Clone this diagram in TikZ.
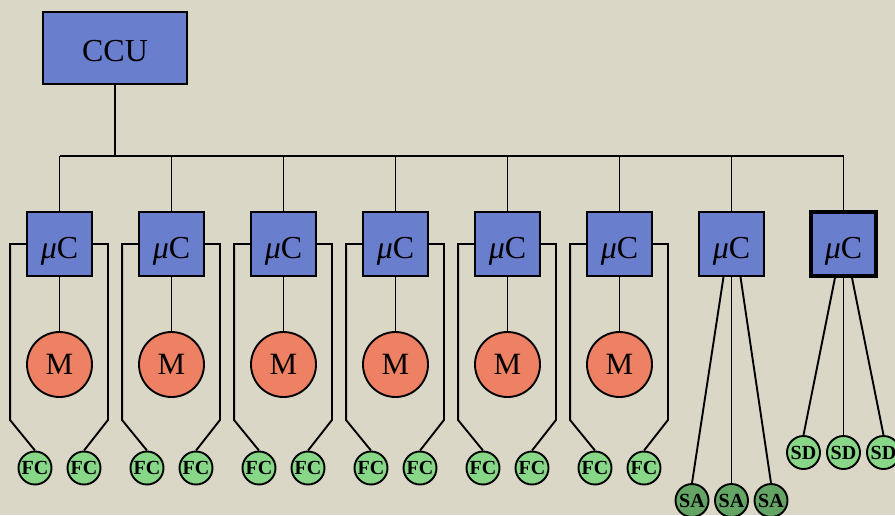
\documentclass[tikz,border=0pt]{standalone}
\usepackage{fontspec}
\setmainfont{Liberation Serif}
\definecolor{bg}{RGB}{218,215,199}
\definecolor{boxblue}{RGB}{106,126,206}
\definecolor{motorred}{RGB}{238,128,100}
\definecolor{lgreen}{RGB}{136,214,136}
\definecolor{dgreen}{RGB}{100,164,100}
\begin{document}
\begin{tikzpicture}[x=1pt,y=-1pt,line width=1.9pt,
  ccubox/.style={draw=black,fill=boxblue,minimum width=144pt,minimum height=72pt,inner sep=0pt,text height=27pt,text depth=0pt,font=\fontsize{32}{36}\selectfont},
  ucbox/.style={draw=black,fill=boxblue,minimum width=65pt,minimum height=64pt,inner sep=0pt,text height=28pt,text depth=0pt,font=\fontsize{32}{36}\selectfont},
  motor/.style={circle,draw=black,fill=motorred,minimum size=65pt,inner sep=0pt,font=\fontsize{31}{36}\selectfont},
  sensor/.style={circle,draw=black,fill=lgreen,minimum size=33pt,inner sep=0pt,font=\bfseries\fontsize{20}{22}\selectfont},
  actuator/.style={sensor,fill=dgreen}]
\fill[bg] (0,0) rectangle (895,515);
\useasboundingbox (0,0) rectangle (895,515);
\node[ccubox] (ccu) at (115,48) {CCU};
\coordinate (bus) at (0,156);
\foreach \i in {1,...,7}{
  \pgfmathsetmacro\cx{59.5+112*(\i-1)}
  \node[ucbox] (uc\i) at (\cx,244) {\textit{μ}C};
}
\node[ucbox,line width=3.5pt] (uc8) at (843.5,244) {\textit{μ}C};
\draw (ccu.south) -- (ccu.south |- bus);
\draw (uc1.north |- bus) -- (uc8.north |- bus);
\foreach \i in {1,...,8}{
  \draw (uc\i.north) -- (uc\i.north |- bus);
}
\foreach \i in {1,...,6}{
  \pgfmathsetmacro\cx{59.5+112*(\i-1)}
  \node[motor] (m\i) at (\cx,364.5) {M};
  \node[sensor] (fcl\i) at (\cx-24.5,468) {FC};
  \node[sensor] (fcr\i) at (\cx+24.5,468) {FC};
  \draw (uc\i.south) -- (m\i.north);
  \draw (uc\i.west) -- ++(-16,0) -- ++(0,176) -- (fcl\i.north);
  \draw (uc\i.east) -- ++(15,0) -- ++(0,176) -- (fcr\i.north);
}
\node[actuator] (sa1) at (692,500.5) {SA};
\node[actuator] (sa2) at (731.5,500.5) {SA};
\node[actuator] (sa3) at (771,500.5) {SA};
\draw ([xshift=-8pt]uc7.south) -- (sa1.north);
\draw (uc7.south) -- (sa2.north);
\draw ([xshift=9pt]uc7.south) -- (sa3.north);
\node[sensor] (sd1) at (803.5,452.5) {SD};
\node[sensor] (sd2) at (843.5,452.5) {SD};
\node[sensor] (sd3) at (883.5,452.5) {SD};
\draw ([xshift=-8.5pt]uc8.south) -- (sd1.north);
\draw (uc8.south) -- (sd2.north);
\draw ([xshift=8.5pt]uc8.south) -- (sd3.north);
\end{tikzpicture}
\end{document}
